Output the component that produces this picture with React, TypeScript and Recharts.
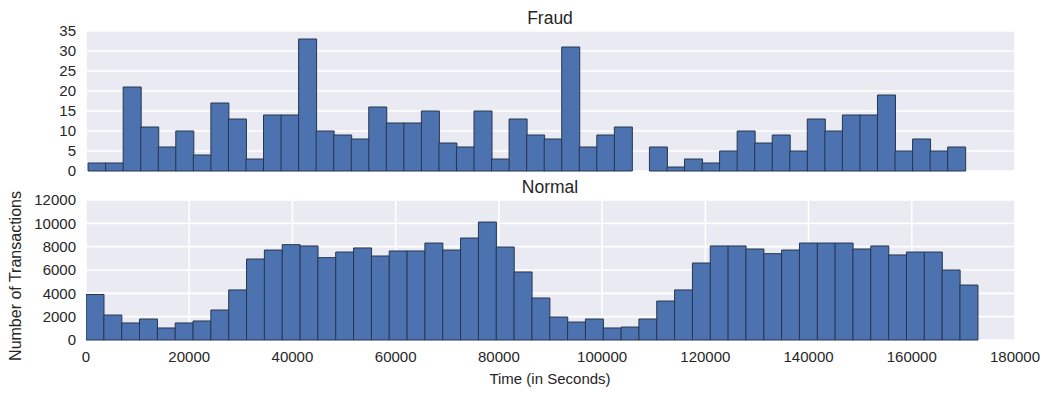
import { BarChart, Bar, XAxis, YAxis, CartesianGrid } from "recharts";

// histogram counts, 50 bins each
const fraudCounts = [
  2, 2, 21, 11, 6, 10, 4, 17, 13, 3, 14, 14, 33, 10, 9, 8, 16, 12, 12, 15, 7, 6, 15, 3, 13,
  9, 8, 31, 6, 9, 11, 0, 6, 1, 3, 2, 5, 10, 7, 9, 5, 13, 10, 14, 14, 19, 5, 8, 5, 6,
];
const normalCounts = [
  3900, 2140, 1460, 1800, 1030, 1460, 1630, 2570, 4290, 6940, 7710, 8170, 8060, 7060, 7540,
  7890, 7200, 7630, 7630, 8310, 7710, 8740, 10110, 7970, 5830, 3600, 1970, 1540, 1800, 1030,
  1110, 1800, 3340, 4290, 6600, 8060, 8060, 7800, 7400, 7710, 8310, 8310, 8310, 7800, 8060,
  7290, 7540, 7540, 6000, 4710,
];
// bin range (min / max time of each class)
const fraudRange = [406, 170348];
const normalRange = [0, 172792];

const xTicks = [0, 20000, 40000, 60000, 80000, 100000, 120000, 140000, 160000, 180000];
const fraudYTicks = [0, 5, 10, 15, 20, 25, 30, 35];
const normalYTicks = [0, 2000, 4000, 6000, 8000, 10000, 12000];

function toBins(counts: number[], range: number[]) {
  const w = (range[1] - range[0]) / counts.length;
  return counts.map((count, i) => ({ time: range[0] + w * (i + 0.5), count }));
}

const FONT = "'Liberation Sans', Arial, sans-serif";
const tickStyle = { fill: "#262626", fontSize: 15, fontFamily: FONT };

function Hist({
  data,
  yTicks,
  showX,
  margin,
  height,
}: {
  data: { time: number; count: number }[];
  yTicks: number[];
  showX: boolean;
  margin: { top: number; right: number; bottom: number; left: number };
  height: number;
}) {
  return (
    <BarChart
      width={1051}
      height={height}
      data={data}
      margin={margin}
      barCategoryGap={0}
      barGap={0}
    >
      <CartesianGrid fill="#EAEAF2" stroke="#ffffff" strokeWidth={1.6} />
      <XAxis
        type="number"
        dataKey="time"
        domain={[0, 180000]}
        ticks={xTicks}
        allowDataOverflow
        axisLine={false}
        tickLine={false}
        tickSize={0}
        tickMargin={11}
        height={showX ? 30 : 0}
        tick={showX ? tickStyle : false}
      />
      <YAxis
        domain={[0, yTicks[yTicks.length - 1]]}
        ticks={yTicks}
        width={46}
        axisLine={false}
        tickLine={false}
        tickSize={0}
        tickMargin={10}
        tick={tickStyle}
        interval={0}
      />
      <Bar
        dataKey="count"
        fill="#4C72B0"
        stroke="#27364f"
        strokeWidth={1}
        isAnimationActive={false}
      />
    </BarChart>
  );
}

export default function App() {
  return (
    <div
      style={{
        position: "absolute",
        left: 0,
        top: 0,
        width: 1051,
        height: 395,
        background: "#fff",
      }}
    >
      <div style={{ position: "absolute", left: 0, top: 0 }}>
        <Hist
          data={toBins(fraudCounts, fraudRange)}
          yTicks={fraudYTicks}
          showX={false}
          height={185}
          margin={{ top: 31, right: 36, bottom: 14, left: 40 }}
        />
      </div>
      <div style={{ position: "absolute", left: 0, top: 190 }}>
        <Hist
          data={toBins(normalCounts, normalRange)}
          yTicks={normalYTicks}
          showX={true}
          height={205}
          margin={{ top: 10, right: 36, bottom: 25, left: 40 }}
        />
      </div>
      <svg
        width={1051}
        height={395}
        style={{ position: "absolute", left: 0, top: 0, pointerEvents: "none" }}
        fontFamily={FONT}
        fill="#262626"
      >
        <text x={550} y={24} fontSize={17.5} textAnchor="middle">
          Fraud
        </text>
        <text x={550} y={193} fontSize={17.5} textAnchor="middle">
          Normal
        </text>
        <text x={550} y={384} fontSize={15} textAnchor="middle">
          Time (in Seconds)
        </text>
        <text
          x={21}
          y={276}
          fontSize={16}
          textAnchor="middle"
          transform="rotate(-90 21 276)"
        >
          Number of Transactions
        </text>
      </svg>
    </div>
  );
}
